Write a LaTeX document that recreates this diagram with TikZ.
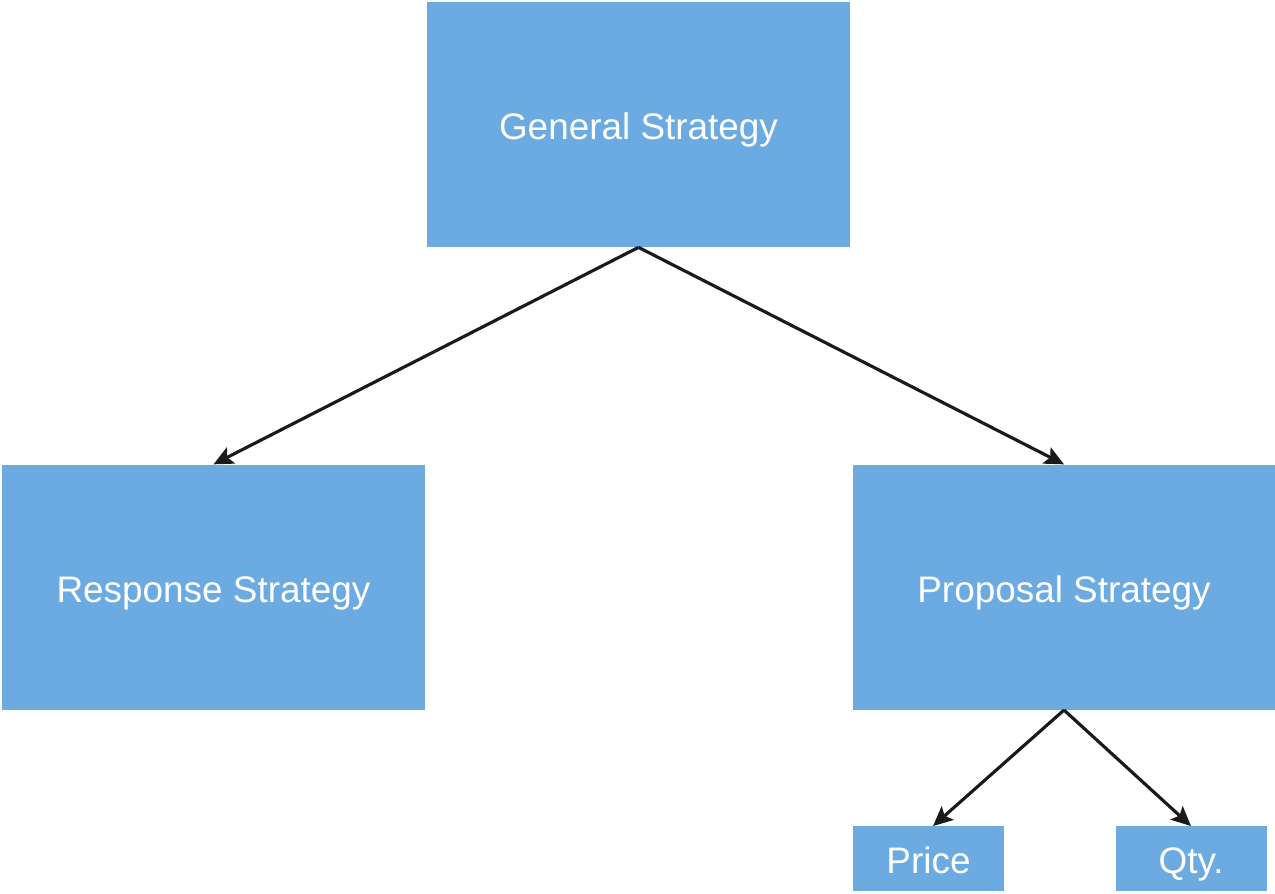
\documentclass[tikz,border=0pt]{standalone}
\usepackage{fontspec}
\setmainfont{Liberation Sans}
\usepackage{xcolor}
\usetikzlibrary{positioning,arrows.meta}
\definecolor{stratblue}{HTML}{6CAAE2}
\definecolor{linkgray}{HTML}{1A1A1A}
\tikzset{
	>={Stealth[length=3.9mm,width=3.6mm,inset=0.8mm]},
	strategy/.style={rectangle, fill=stratblue, minimum width=8.46cm, minimum height=4.9cm, font=\fontsize{21}{25}\selectfont, text=white, align=center, inner sep=0pt, text height=17.5pt, text depth=0pt},
	param/.style={rectangle, fill=stratblue, minimum width=3.02cm, minimum height=1.3cm, font=\fontsize{21}{25}\selectfont, text=white, align=center, inner sep=0pt, text height=17pt, text depth=0pt},
	link/.style={->, draw=linkgray, line width=1.8pt}
}

\begin{document}
\begin{tikzpicture}
	\useasboundingbox (0,0) rectangle (25.5,17.86);

	% --- Nodes ---
	\node[strategy] (general) at (12.77,15.37) {General Strategy};

	\node[strategy, below=4.34cm of general, xshift=-8.5cm] (response) {Response Strategy};
	\node[strategy, below=4.34cm of general, xshift=8.51cm] (proposal) {Proposal Strategy};

	\node[param, below=2.32cm of proposal, xshift=-2.71cm] (price) {Price};
	\node[param, below=2.32cm of proposal, xshift=2.54cm] (qty) {Qty.};

	% --- Connections ---
	\draw[link] (general.south) -- (response.north);
	\draw[link] (general.south) -- (proposal.north);

	\draw[link] (proposal.south) -- ([xshift=0.09cm]price.north);
	\draw[link] (proposal.south) -- (qty.north);

\end{tikzpicture}
\end{document}
